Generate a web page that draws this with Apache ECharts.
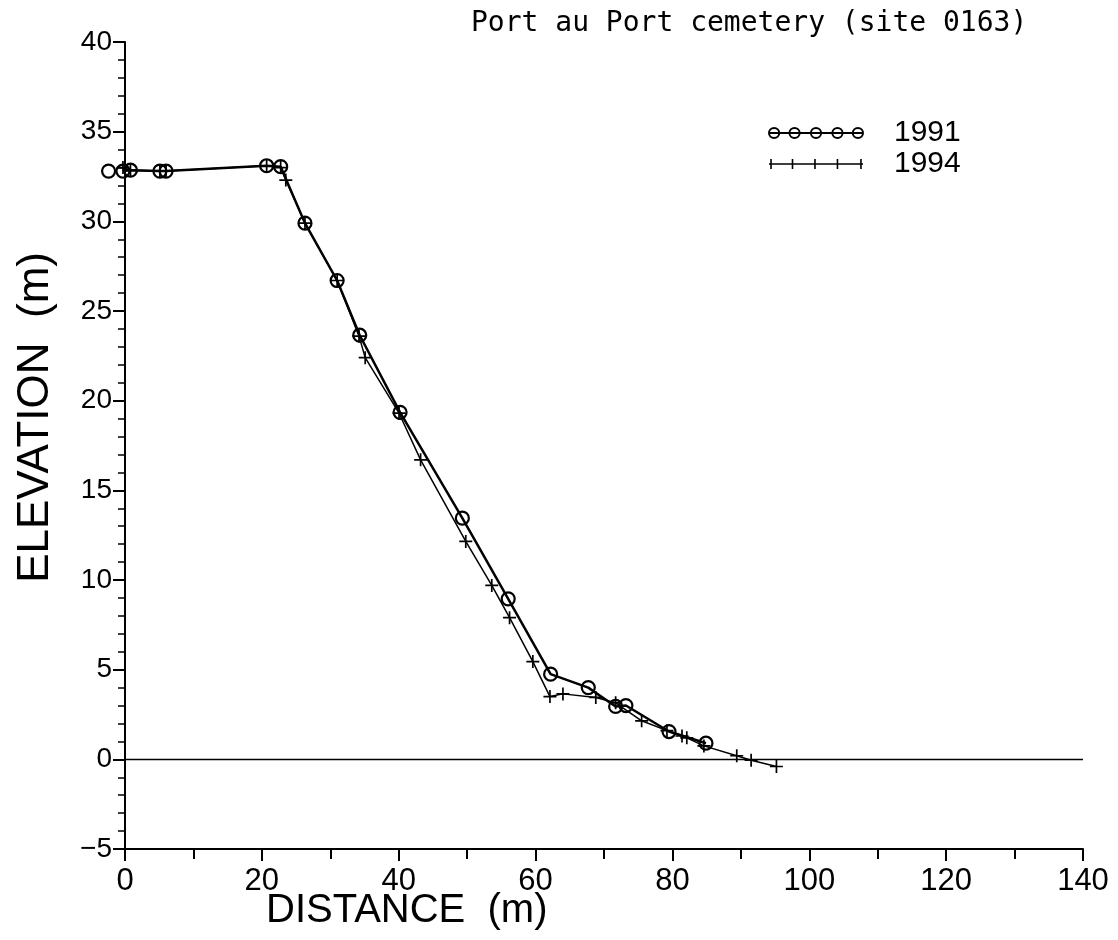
<!DOCTYPE html>
<html>
<head>
<meta charset="utf-8">
<script src="https://cdn.jsdelivr.net/npm/echarts@6/dist/echarts.min.js"></script>
<style>
  html, body { margin: 0; padding: 0; background: #fff; }
  #chart { width: 1118px; height: 940px; }
</style>
</head>
<body>
<div id="chart"></div>
<script>
// ---- data (distance m, elevation m) ----
var titleText = 'Port au Port cemetery (site 0163)';
var xName = 'DISTANCE  (m)';
var yName = 'ELEVATION  (m)';
var seriesNames = ['1991', '1994'];

var dist1991 = [-2.4, -0.3, 0.8, 5.1, 6.0, 20.7, 22.75, 26.3, 31.0, 34.3, 40.2, 49.3, 56.0, 62.2, 67.7, 71.7, 73.2, 79.5, 84.9];
var elev1991 = [32.8, 32.8, 32.85, 32.8, 32.8, 33.1, 33.05, 29.9, 26.7, 23.65, 19.35, 13.45, 8.95, 4.75, 4.0, 2.95, 3.0, 1.55, 0.9];

var dist1994 = [-0.3, 0.8, 5.1, 6.0, 20.7, 22.75, 23.5, 26.3, 31.0, 34.2, 35.1, 40.05, 43.2, 49.8, 53.6, 56.2, 59.6, 62.1, 64.0, 68.8, 71.7, 75.5, 79.2, 81.4, 82.1, 84.6, 89.4, 91.5, 95.2];
var elev1994 = [33.0, 32.85, 32.8, 32.8, 33.1, 33.0, 32.3, 29.9, 26.7, 23.6, 22.4, 19.3, 16.7, 12.15, 9.7, 7.9, 5.45, 3.5, 3.65, 3.45, 3.15, 2.15, 1.6, 1.3, 1.2, 0.75, 0.2, -0.05, -0.4];

var xTicks = { min: 0, max: 140, interval: 20 };
var yTicks = { min: -5, max: 40, interval: 5 };

function pairs(xs, ys) { return xs.map(function (x, i) { return [x, ys[i]]; }); }

var crossPath = 'path://M0,6 L12,6 M6,0 L6,12';
var legendCircles = 'path://M0,6 L92,6 M0,6 a5,5 0 1,0 10,0 a5,5 0 1,0 -10,0 M20,6 a5,5 0 1,0 10,0 a5,5 0 1,0 -10,0 M41,6 a5,5 0 1,0 10,0 a5,5 0 1,0 -10,0 M62,6 a5,5 0 1,0 10,0 a5,5 0 1,0 -10,0 M82,6 a5,5 0 1,0 10,0 a5,5 0 1,0 -10,0';
var legendCross = 'path://M0,6 L92,6 M2,1 L2,11 M23,1 L23,11 M45,1 L45,11 M67,1 L67,11 M90,1 L90,11';

var chart = echarts.init(document.getElementById('chart'), null, { renderer: 'canvas' });
var font = 'Liberation Sans, Arial, sans-serif';

chart.setOption({
  backgroundColor: '#ffffff',
  animation: false,
  title: {
    text: titleText,
    left: 466, top: 5,
    textStyle: { fontFamily: 'DejaVu Sans Mono, monospace', fontSize: 28, fontWeight: 'normal', color: '#000' }
  },
  legend: {
    orient: 'vertical',
    left: 763, top: 113,
    itemGap: 1,
    itemWidth: 94, itemHeight: 14,
    formatter: function (n) { return '{a|' + n + '}'; },
    textStyle: {
      fontFamily: font, fontSize: 30, color: '#000',
      rich: { a: { fontFamily: font, fontSize: 30, color: '#000', padding: [0, 0, 0, 26] } }
    },
    data: [
      { name: seriesNames[0], icon: legendCircles, itemStyle: { color: 'rgba(0,0,0,0)', borderColor: '#000', borderWidth: 2 } },
      { name: seriesNames[1], icon: legendCross, itemStyle: { color: 'rgba(0,0,0,0)', borderColor: '#000', borderWidth: 1.6 } }
    ]
  },
  grid: { left: 125, right: 35, top: 42, bottom: 91, containLabel: false },
  xAxis: {
    type: 'value', min: xTicks.min, max: xTicks.max, interval: xTicks.interval,
    axisLine: { onZero: false, lineStyle: { color: '#000', width: 2 } },
    axisTick: { inside: false, length: 12, lineStyle: { color: '#000', width: 2 } },
    minorTick: { show: true, splitNumber: 2, length: 10, lineStyle: { color: '#000', width: 2 } },
    splitLine: { show: false },
    axisLabel: { margin: 17, fontFamily: font, fontSize: 31, color: '#000' }
  },
  yAxis: {
    type: 'value', min: yTicks.min, max: yTicks.max, interval: yTicks.interval,
    axisLine: { onZero: false, lineStyle: { color: '#000', width: 2 } },
    axisTick: { inside: false, length: 12, lineStyle: { color: '#000', width: 2 } },
    minorTick: { show: true, splitNumber: 5, length: 7, lineStyle: { color: '#000', width: 1.5 } },
    splitLine: { show: false },
    axisLabel: { margin: 13, fontFamily: font, fontSize: 28, color: '#000',
      formatter: function (v) { return v < 0 ? '\u2212' + Math.abs(v) : String(v); } }
  },
  graphic: [
    { type: 'text', left: 266, top: 891, style: { text: xName, font: '40px ' + font, fill: '#000' } },
    { type: 'text', left: 14, top: 252, rotation: Math.PI / 2,
      style: { text: yName, font: '44px ' + font, fill: '#000' } }
  ],
  series: [
    {
      name: seriesNames[0], type: 'line', clip: false,
      data: pairs(dist1991, elev1991),
      symbol: 'circle', symbolSize: 13,
      itemStyle: { color: 'rgba(0,0,0,0)', borderColor: '#000', borderWidth: 2.2 },
      lineStyle: { color: '#000', width: 2.5 },
      z: 3,
      markLine: {
        silent: true, symbol: 'none', label: { show: false },
        lineStyle: { color: '#000', width: 1.4, type: 'solid' },
        data: [{ yAxis: 0 }]
      }
    },
    {
      name: seriesNames[1], type: 'line', clip: false,
      data: pairs(dist1994, elev1994),
      symbol: crossPath, symbolSize: 13,
      itemStyle: { color: 'rgba(0,0,0,0)', borderColor: '#000', borderWidth: 1.7 },
      lineStyle: { color: '#000', width: 1.5 },
      z: 4
    }
  ]
});
</script>
</body>
</html>
